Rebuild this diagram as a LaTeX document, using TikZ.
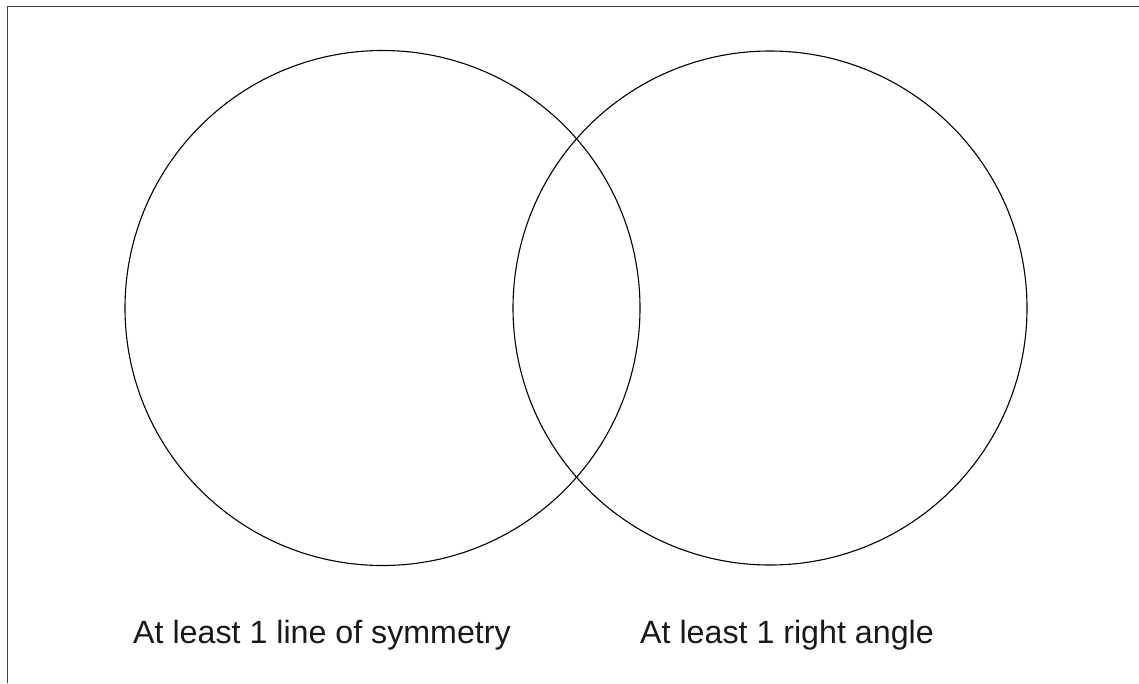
\documentclass[tikz,border=0pt]{standalone}
\usepackage{fontspec}
\setmainfont{Liberation Sans}
\begin{document}
\begin{tikzpicture}[x=1pt,y=-1pt,
  frameline/.style={draw=black!75,line width=1.8pt},
  setcircle/.style={draw=black,line width=1.1pt},
  label/.style={anchor=base west,inner sep=0pt,font=\fontsize{32.2}{36}\selectfont,text=black!90}]
\useasboundingbox (0,0) rectangle (1139,683);
\coordinate (fl) at (7.5,683);
\coordinate (ftl) at (7.5,6.5);
\coordinate (ftr) at (1139,6.5);
\draw[frameline] (fl) -- (ftl) -- (ftr);
\node[setcircle,circle,minimum size=515pt,inner sep=0pt] (A) at (382.5,308) {};
\node[setcircle,circle,minimum size=514pt,inner sep=0pt] (B) at (770,308) {};
\node[label] (la) at (133,643) {At least 1 line of symmetry};
\node[label] (lb) at (640,643) {At least 1 right angle};
\end{tikzpicture}
\end{document}
